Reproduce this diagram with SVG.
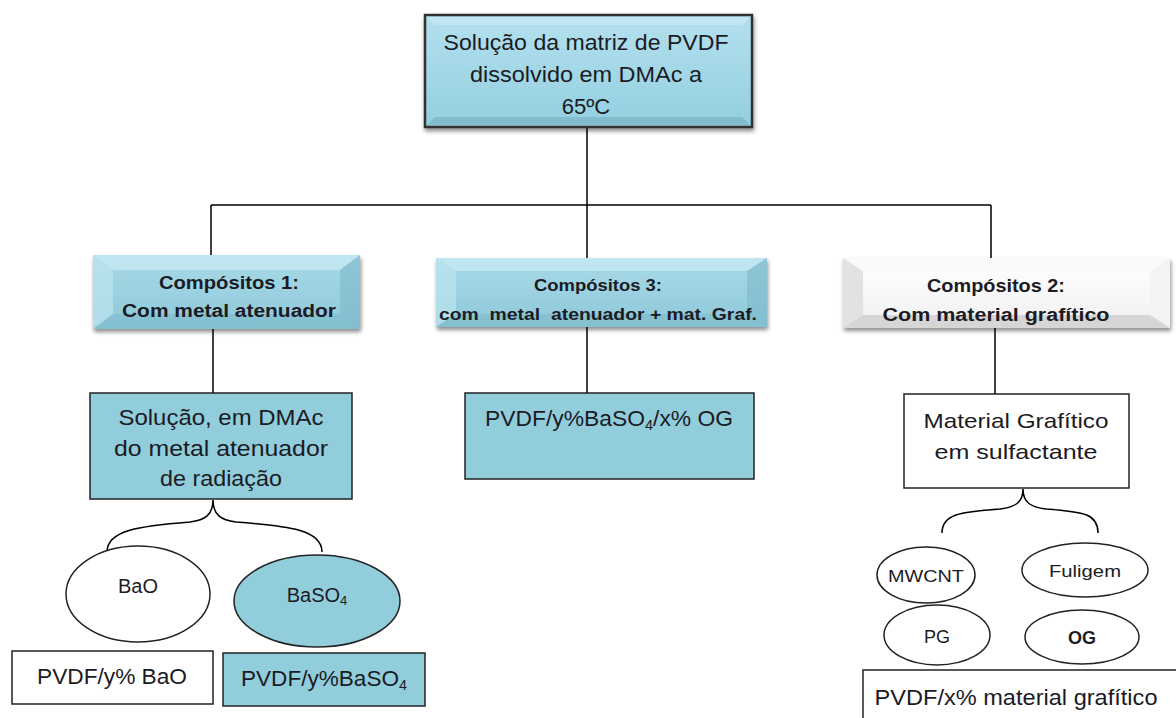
<svg xmlns="http://www.w3.org/2000/svg" width="1176" height="718" viewBox="0 0 1176 718">
<style>
.t{font-family:"Liberation Sans",Arial,sans-serif;fill:#1b1b24;text-anchor:middle}
.b{font-weight:bold}
.ln{stroke:#000;stroke-width:1.5;fill:none}
.box{stroke:#222;stroke-width:1.5}
.blue{fill:#92cddc}
.white{fill:#fff}
</style>
<defs>
<linearGradient id="gTop" x1="0" y1="0" x2="0" y2="1">
<stop offset="0" stop-color="#b4e0ee"/><stop offset="1" stop-color="#93cfe0"/>
</linearGradient>
<linearGradient id="gBlue" x1="0" y1="0" x2="0" y2="1">
<stop offset="0" stop-color="#a9dae8"/><stop offset="1" stop-color="#8ec8d9"/>
</linearGradient>
<linearGradient id="gWhite" x1="0" y1="0" x2="0" y2="1">
<stop offset="0" stop-color="#ffffff"/><stop offset="1" stop-color="#f0f0f0"/>
</linearGradient>
<filter id="sh" x="-10%" y="-10%" width="120%" height="130%">
<feGaussianBlur in="SourceAlpha" stdDeviation="2"/>
<feOffset dx="1" dy="3" result="o"/>
<feComponentTransfer><feFuncA type="linear" slope="0.45"/></feComponentTransfer>
<feMerge><feMergeNode/><feMergeNode in="SourceGraphic"/></feMerge>
</filter>
</defs>

<g id="connectors">
<path class="ln" d="M587 127V205M211 205H991M211 205V255M587 205V258M991 205V258"/>
<path class="ln" d="M213 329V393M587 327V393M995 328V394"/>
<path class="ln" d="M213 500C213 515 205 520 190 522C140 526 107 530 107 552M213 500C213 515 221 520 236 522C290 526 322 530 322 552"/>
<path class="ln" d="M1023 489C1023 503 1015 507 1000 509C960 512 942 514 942 533M1023 489C1023 503 1031 507 1046 509C1085 512 1098 514 1098 533"/>
</g>

<g id="top">
<rect x="425" y="15" width="327" height="112" fill="url(#gTop)" stroke="#333" stroke-width="2.5" filter="url(#sh)"/>
<polygon points="427,17 750,17 742,25 435,25" fill="#c9eaf3" opacity="0.7"/>
<polygon points="427,125 750,125 742,117 435,117" fill="#6fa9ba" opacity="0.5"/>
<text class="t" font-size="22" x="586" y="50" textLength="285" lengthAdjust="spacingAndGlyphs">Solução da matriz de PVDF</text>
<text class="t" font-size="22" x="586" y="82" textLength="232" lengthAdjust="spacingAndGlyphs">dissolvido em DMAc a</text>
<text class="t" font-size="22" x="586" y="114">65ºC</text>
</g>

<g id="comp1">
<rect x="93" y="255" width="267" height="74" fill="url(#gBlue)" filter="url(#sh)"/>
<polygon points="93,255 360,255 340,270 113,270" fill="#c6e8f2" opacity="0.8"/>
<polygon points="93,255 113,270 113,314 93,329" fill="#b9e2ee" opacity="0.8"/>
<polygon points="360,255 340,270 340,314 360,329" fill="#7cb7c9" opacity="0.6"/>
<polygon points="93,329 113,314 340,314 360,329" fill="#7fbacb" opacity="0.6"/>
<text class="t b" font-size="18" x="229" y="289" textLength="140" lengthAdjust="spacingAndGlyphs">Compósitos 1:</text>
<text class="t b" font-size="18" x="229" y="317" textLength="214" lengthAdjust="spacingAndGlyphs">Com metal atenuador</text>
</g>

<g id="comp3">
<rect x="436" y="258" width="331" height="69" fill="url(#gBlue)" filter="url(#sh)"/>
<polygon points="436,258 767,258 747,271 456,271" fill="#c6e8f2" opacity="0.8"/>
<polygon points="436,258 456,271 456,314 436,327" fill="#b9e2ee" opacity="0.8"/>
<polygon points="767,258 747,271 747,314 767,327" fill="#7cb7c9" opacity="0.6"/>
<polygon points="436,327 456,314 747,314 767,327" fill="#7fbacb" opacity="0.6"/>
<text class="t b" font-size="17" x="598" y="291" textLength="128" lengthAdjust="spacingAndGlyphs">Compósitos 3:</text>
<text class="t b" font-size="17" x="598" y="320" textLength="318" lengthAdjust="spacingAndGlyphs" xml:space="preserve">com  metal  atenuador + mat. Graf.</text>
</g>

<g id="comp2">
<rect x="843" y="258" width="327" height="70" fill="url(#gWhite)" filter="url(#sh)"/>
<polygon points="843,258 1170,258 1150,271 863,271" fill="#fafafa"/>
<polygon points="843,258 863,271 863,315 843,328" fill="#e2e2e2"/>
<polygon points="1170,258 1150,271 1150,315 1170,328" fill="#f3f3f3"/>
<polygon points="843,328 863,315 1150,315 1170,328" fill="#d6d6d6"/>
<text class="t b" font-size="18" x="996" y="292" textLength="138" lengthAdjust="spacingAndGlyphs">Compósitos 2:</text>
<text class="t b" font-size="18" x="996" y="321" textLength="227" lengthAdjust="spacingAndGlyphs">Com material grafítico</text>
</g>

<g id="solucao">
<rect class="box blue" x="90" y="393" width="262" height="106"/>
<text class="t" font-size="22" x="221" y="425" textLength="205" lengthAdjust="spacingAndGlyphs">Solução, em DMAc</text>
<text class="t" font-size="22" x="221" y="456" textLength="214" lengthAdjust="spacingAndGlyphs">do metal atenuador</text>
<text class="t" font-size="22" x="221" y="486" textLength="122" lengthAdjust="spacingAndGlyphs">de radiação</text>
</g>

<g id="mid">
<rect class="box blue" x="465" y="393" width="289" height="86"/>
<text class="t" font-size="22" x="609" y="426" textLength="248" lengthAdjust="spacingAndGlyphs">PVDF/y%BaSO<tspan font-size="14" dy="4">4</tspan><tspan dy="-4">/x% OG</tspan></text>
</g>

<g id="matgraf">
<rect class="box white" x="904" y="394" width="225" height="94"/>
<text class="t" font-size="21" x="1016" y="428" textLength="185" lengthAdjust="spacingAndGlyphs">Material Grafítico</text>
<text class="t" font-size="21" x="1016" y="459" textLength="163" lengthAdjust="spacingAndGlyphs">em sulfactante</text>
</g>

<g id="bao">
<ellipse class="box white" cx="138" cy="594" rx="72" ry="48"/>
<text class="t" font-size="20" x="138" y="593">BaO</text>
</g>
<g id="baso4">
<ellipse class="box blue" cx="317" cy="601" rx="83" ry="46"/>
<text class="t" font-size="20" x="317" y="602">BaSO<tspan font-size="13" dy="3">4</tspan></text>
</g>
<g id="pvdf-bao">
<rect class="box white" x="12" y="651" width="201" height="53"/>
<text class="t" font-size="22" x="112" y="684" textLength="150" lengthAdjust="spacingAndGlyphs">PVDF/y% BaO</text>
</g>
<g id="pvdf-baso4">
<rect class="box blue" x="223" y="653" width="202" height="53"/>
<text class="t" font-size="22" x="324" y="686" textLength="166" lengthAdjust="spacingAndGlyphs">PVDF/y%BaSO<tspan font-size="14" dy="4">4</tspan></text>
</g>

<g id="mwcnt">
<ellipse class="box white" cx="926" cy="575" rx="49" ry="28"/>
<text class="t" font-size="17" x="926" y="582" textLength="76" lengthAdjust="spacingAndGlyphs">MWCNT</text>
</g>
<g id="fuligem">
<ellipse class="box white" cx="1085" cy="570" rx="63" ry="27"/>
<text class="t" font-size="17" x="1085" y="577" textLength="72" lengthAdjust="spacingAndGlyphs">Fuligem</text>
</g>
<g id="pg">
<ellipse class="box white" cx="937" cy="635" rx="53" ry="30"/>
<text class="t" font-size="18" x="937" y="643">PG</text>
</g>
<g id="og">
<ellipse class="box white" cx="1082" cy="637" rx="57" ry="27"/>
<text class="t b" font-size="18" x="1082" y="644">OG</text>
</g>
<g id="pvdf-graf">
<rect class="box white" x="863" y="670" width="320" height="60"/>
<text class="t" font-size="22" x="1016" y="705" textLength="283" lengthAdjust="spacingAndGlyphs">PVDF/x% material grafítico</text>
</g>
</svg>
